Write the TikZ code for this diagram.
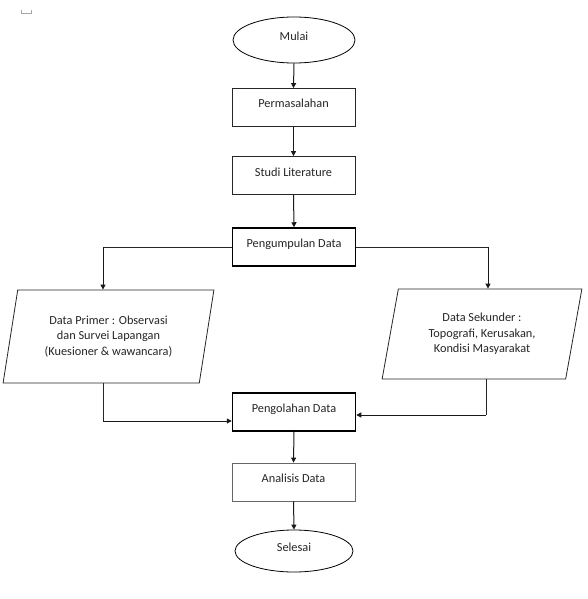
\documentclass[tikz,border=0pt]{standalone}
\usepackage{fontspec}
\setmainfont{Carlito}
\usetikzlibrary{shapes.geometric,arrows.meta}
\begin{document}
\begin{tikzpicture}[x=1pt,y=-1pt,
  every node/.style={font=\fontsize{12.3}{15.5}\selectfont, text=black!85},
  proc/.style={draw=black!85, line width=0.8pt, rectangle, minimum width=123pt, minimum height=38pt, inner sep=0pt, text height=8pt, text depth=7pt},
  procbold/.style={proc, draw=black, line width=1.5pt},
  term/.style={draw=black, line width=0.8pt, ellipse, inner sep=0pt, text height=8pt, text depth=7pt},
  iobox/.style={draw=black!85, line width=0.8pt, trapezium, trapezium left angle=76, trapezium right angle=104, trapezium stretches=true, align=center, inner sep=0pt},
  arr/.style={line width=1pt, draw=black!90, -{Triangle[length=5pt,width=5pt]}},
  ln/.style={line width=0.8pt, draw=black!85}
]
\useasboundingbox (0,0) rectangle (587,599);
\fill[white] (0,0) rectangle (587,599);
% small marker at top left
\draw[gray!70, line width=0.7pt] (21,10) -- (21,13.5) -- (31,13.5) -- (31,10);

\node[term, minimum width=122pt, minimum height=46pt] (mulai) at (294,40) {Mulai};
\node[proc] (perm) at (293.5,107.5) {Permasalahan};
\node[proc] (studi) at (293.5,175.5) {Studi Literature};
\node[procbold] (kumpul) at (294,247) {Pengumpulan Data};
\node[iobox, minimum width=211pt, minimum height=93pt] (primer) at (108.5,336.5)
  {Data Primer : Observasi\\dan Survei Lapangan\\(Kuesioner \& wawancara)};
\node[iobox, minimum width=200pt, minimum height=90pt] (sekunder) at (482,334)
  {Data Sekunder :\\Topografi, Kerusakan,\\Kondisi Masyarakat};
\node[procbold] (olah) at (294,412) {Pengolahan Data};
\node[proc, draw=black!60] (analisis) at (293.5,482) {Analisis Data};
\node[term, minimum width=118pt, minimum height=42pt] (selesai) at (294,551) {Selesai};

\coordinate (c1) at (103,247);
\coordinate (c2) at (488,247);
\coordinate (c3) at (103,421);
\coordinate (c4) at (486,415);

\draw[arr] (mulai.south) -- (perm.north);
\draw[arr] (perm.south) -- (studi.north);
\draw[arr] (studi.south) -- (kumpul.north);
\draw[ln] (kumpul.west) -- (c1);
\draw[arr] (c1) -- (c1 |- primer.north);
\draw[ln] (kumpul.east) -- (c2);
\draw[arr] (c2) -- (c2 |- sekunder.north);
\draw[ln] (c1 |- primer.south) -- (c3);
\draw[arr] (c3) -- (c3 -| olah.west);
\draw[ln] (c4 |- sekunder.south) -- (c4);
\draw[arr] (c4) -- (c4 -| olah.east);
\draw[arr] (olah.south) -- (analisis.north);
\draw[arr] (analisis.south) -- (selesai.north);
\end{tikzpicture}
\end{document}
